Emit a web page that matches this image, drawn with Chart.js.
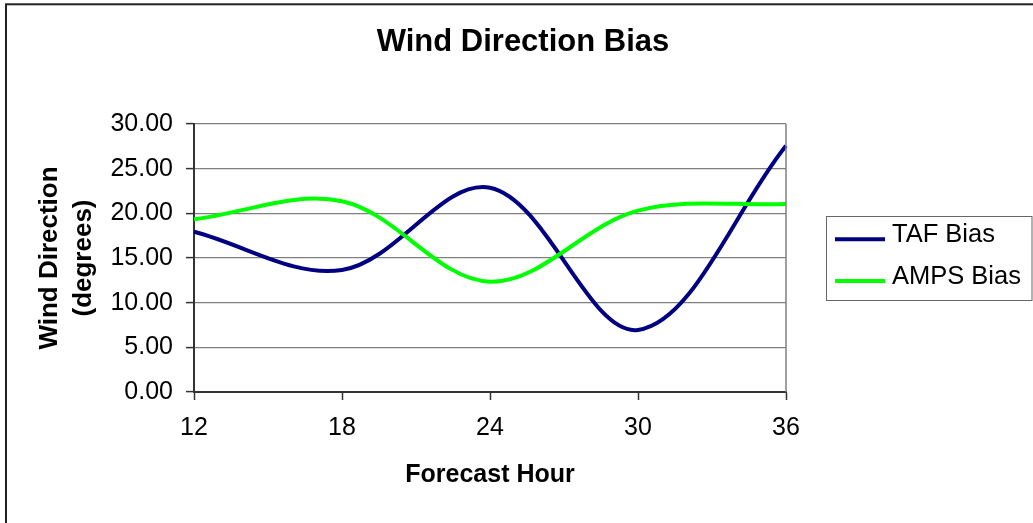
<!DOCTYPE html>
<html>
<head>
<meta charset="utf-8">
<title>Wind Direction Bias</title>
<script src="https://cdn.jsdelivr.net/npm/chart.js@4.4.1/dist/chart.umd.min.js"></script>
<style>
  html, body { margin: 0; padding: 0; background: #ffffff; }
  #wrap { width: 1033px; height: 523px; position: relative; }
  canvas { display: block; }
</style>
</head>
<body>
<div id="wrap"><canvas id="chart" width="1033" height="523"></canvas></div>
<script>
// Chart text
const chartTitle = 'Wind Direction Bias';
const xAxisTitle = 'Forecast Hour';
const yAxisTitle = ['Wind Direction', '(degrees)'];

// Forecast hours on the category axis
const forecastHours = ['12', '18', '24', '30', '36'];

// Mean wind direction bias (degrees) per forecast hour
const seriesNames = ['TAF Bias', 'AMPS Bias'];
const tafBias  = [17.94, 13.66, 22.87, 6.95, 27.57];
const ampsBias = [19.33, 21.35, 12.35, 20.30, 21.05];

// Value axis range
const yMin = 0;
const yMax = 30;
const yStep = 5;

const FONT = "'Liberation Sans', Arial, Helvetica, sans-serif";
Chart.defaults.font.family = FONT;
Chart.defaults.color = '#000000';

// Frame, plot-area edge, title and boxed legend
const decorations = {
  id: 'decorations',
  beforeDraw(chart) {
    const ctx = chart.ctx;
    ctx.save();
    ctx.fillStyle = '#ffffff';
    ctx.fillRect(0, 0, chart.width, chart.height);
    ctx.restore();
  },
  afterDatasetsDraw(chart) {
    const {ctx, chartArea} = chart;
    ctx.save();
    // right edge of the plot area
    ctx.strokeStyle = '#808080';
    ctx.lineWidth = 1.5;
    ctx.beginPath();
    ctx.moveTo(chartArea.right, chartArea.top);
    ctx.lineTo(chartArea.right, chartArea.bottom);
    ctx.stroke();
    ctx.restore();
  },
  afterDraw(chart) {
    const ctx = chart.ctx;
    const area = chart.chartArea;
    ctx.save();

    // outer frame
    ctx.strokeStyle = '#222222';
    ctx.lineWidth = 2;
    ctx.strokeRect(6, 4.3, chart.width + 40, chart.height + 40);

    // chart title
    ctx.fillStyle = '#000000';
    ctx.font = 'bold 31px ' + FONT;
    ctx.textAlign = 'center';
    ctx.textBaseline = 'middle';
    ctx.fillText(chartTitle, 523, 42.5);

    // legend box
    const boxL = area.right + 40.5;
    const boxT = 216.5;
    const boxW = 205.5;
    const boxH = 84;
    ctx.strokeStyle = '#666666';
    ctx.lineWidth = 1;
    ctx.strokeRect(boxL, boxT, boxW, boxH);

    ctx.font = '25.5px ' + FONT;
    ctx.textAlign = 'left';
    chart.data.datasets.forEach((ds, i) => {
      const y = 239.3 + i * 41.7;
      ctx.strokeStyle = ds.borderColor;
      ctx.lineWidth = ds.borderWidth;
      ctx.beginPath();
      ctx.moveTo(boxL + 8.5, y);
      ctx.lineTo(boxL + 58.5, y);
      ctx.stroke();
      ctx.fillStyle = '#000000';
      ctx.fillText(ds.label, boxL + 65.5, y - 4.3);
    });
    ctx.restore();
  }
};

new Chart(document.getElementById('chart'), {
  type: 'line',
  data: {
    labels: forecastHours,
    datasets: [
      {
        label: seriesNames[0],
        data: tafBias,
        borderColor: '#000080',
        backgroundColor: '#000080',
        borderWidth: 4,
        pointRadius: 0,
        pointHoverRadius: 0,
        tension: 0.35,
        fill: false,
        order: 1
      },
      {
        label: seriesNames[1],
        data: ampsBias,
        borderColor: '#00ff00',
        backgroundColor: '#00ff00',
        borderWidth: 4,
        pointRadius: 0,
        pointHoverRadius: 0,
        tension: 0.35,
        fill: false,
        order: 0
      }
    ]
  },
  options: {
    responsive: false,
    animation: false,
    devicePixelRatio: 1,
    layout: { padding: { left: 6, right: 247, top: 124, bottom: 0 } },
    plugins: {
      legend: { display: false },
      title: { display: false },
      tooltip: { enabled: false }
    },
    scales: {
      x: {
        type: 'category',
        offset: false,
        ticks: {
          color: '#000000',
          font: { size: 25 },
          padding: 13.5,
          maxRotation: 0,
          autoSkip: false
        },
        grid: {
          display: true,
          drawOnChartArea: false,
          drawTicks: true,
          tickLength: 8,
          tickColor: '#333333',
          tickWidth: 1.5
        },
        border: { display: true, color: '#333333', width: 2 },
        title: {
          display: true,
          text: xAxisTitle,
          color: '#000000',
          font: { size: 25, weight: 'bold', lineHeight: 1.2 },
          padding: { top: 0, bottom: 32.5 }
        },
        afterFit(scale) { scale.height = 131; }
      },
      y: {
        min: yMin,
        max: yMax,
        ticks: {
          stepSize: yStep,
          color: '#000000',
          font: { size: 25 },
          padding: 13,
          callback: (v) => Number(v).toFixed(2)
        },
        grid: {
          color: '#808080',
          lineWidth: 1.2,
          drawTicks: true,
          tickLength: 8,
          tickColor: '#333333',
          tickWidth: 1.5
        },
        border: { display: true, color: '#333333', width: 2 },
        title: {
          display: true,
          text: yAxisTitle,
          color: '#000000',
          font: { size: 26, weight: 'bold', lineHeight: 1.3 },
          padding: { top: 27, bottom: 0 }
        },
        afterFit(scale) { scale.width = 188; }
      }
    }
  },
  plugins: [decorations]
});
</script>
</body>
</html>
